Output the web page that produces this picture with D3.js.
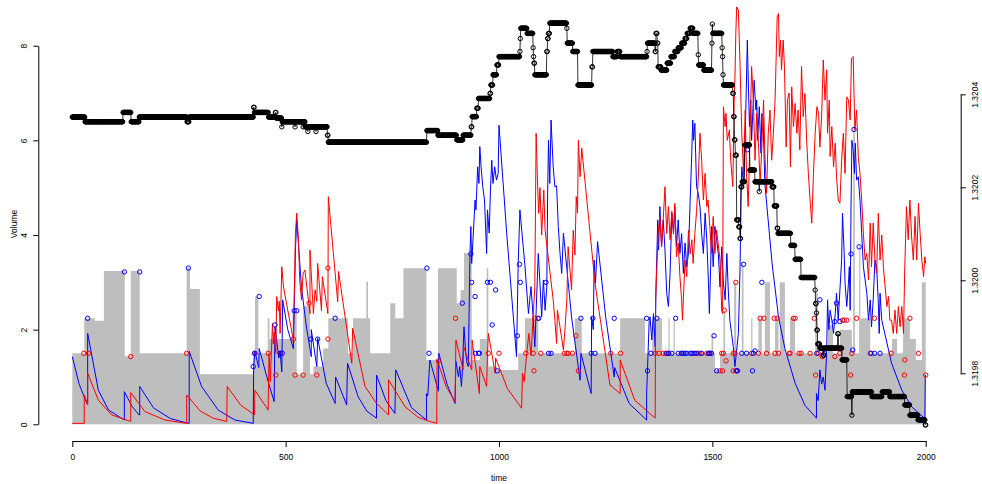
<!DOCTYPE html>
<html lang="en">
<head>
<meta charset="UTF-8">
<title>Volume and price over time</title>
<script src="https://d3js.org/d3.v7.min.js"></script>
<style>
  body { margin: 0; background: #fff; }
  svg { display: block; font-family: 'Liberation Sans', Arial, sans-serif; }
  .axis text { font-size: 8.5px; fill: #000; }
  .axis path, .axis line { stroke: #000; }
</style>
</head>
<body>
<svg id="chart" width="982" height="484"></svg>
<script>
// gray volume steps (step starts and heights)
const volT = [0,28,53,74,123,137,158,268,276,299,424,428,436,458,462,516,526,541,557,565,588,600,646,658,689,693,698,745,757,776,830,857,901,910,918,936,955,971,975,996,1045,1061,1092,1178,1194,1284,1342,1359,1382,1397,1400,1409,1412,1498,1502,1506,1518,1526,1530,1551,1556,1569,1573,1591,1594,1608,1616,1623,1635,1647,1655,1658,1670,1682,1694,1741,1747,1771,1783,1799,1827,1830,1834,1844,1847,1870,1921,1933,1947,1963,1977,1991,2000];
const volV = [1.5,2.24,2.19,3.24,1.44,3.24,1.5,3.3,2.86,1.06,1.53,2.7,1.5,2.24,1.8,2.41,1.06,2.5,1.06,1.22,1.6,2.24,1.5,2.24,3.01,2.24,1.5,2.56,2.24,3.3,1.36,3.3,2.56,2.84,3.62,1.36,1.8,3.3,1.22,1.15,1.5,2.24,1.5,2.24,1.5,2.24,1.5,2.24,1.5,2.24,1.5,2.24,1.5,1.87,1.5,1.15,1.5,2.41,1.5,3.0,1.5,3.38,1.5,2.24,1.5,2.24,1.5,3.0,1.5,2.24,1.5,3.0,1.5,2.24,1.5,2.77,1.5,2.1,1.5,2.0,1.5,6.23,1.5,3.75,2.24,1.5,1.8,1.5,2.24,1.8,1.36,3.0,3.0];

// red line
const redT = [0,28,28,36,36,61,92,137,137,170,217,268,268,300,330,362,363,395,427,428,459,461,464,469,471,473,477,479,483,485,487,491,495,498,518,520,523,526,530,533,537,541,545,557,557,565,569,573,575,584,586,599,600,622,624,655,657,686,713,741,741,780,810,838,854,855,876,897,899,916,917,936,937,954,955,971,973,975,991,992,1020,1053,1055,1059,1065,1070,1075,1080,1084,1087,1090,1093,1096,1100,1105,1108,1127,1131,1135,1137,1151,1155,1159,1162,1170,1174,1178,1181,1184,1186,1190,1194,1225,1260,1284,1284,1318,1366,1367,1373,1377,1381,1385,1389,1393,1397,1401,1405,1409,1412,1416,1420,1424,1428,1430,1433,1436,1440,1444,1448,1452,1455,1459,1463,1467,1471,1475,1479,1483,1487,1490,1494,1498,1502,1506,1510,1518,1522,1524,1526,1530,1532,1535,1540,1543,1548,1551,1553,1555,1557,1561,1565,1569,1573,1577,1580,1584,1588,1592,1596,1600,1604,1608,1612,1616,1620,1623,1627,1631,1635,1639,1643,1647,1649,1652,1655,1657,1660,1662,1666,1669,1673,1676,1680,1683,1686,1690,1694,1698,1701,1705,1709,1713,1717,1721,1725,1729,1733,1737,1741,1745,1749,1752,1756,1760,1764,1768,1770,1774,1776,1780,1784,1788,1791,1795,1799,1803,1807,1811,1815,1819,1823,1826,1830,1834,1838,1842,1846,1850,1854,1858,1862,1866,1870,1873,1877,1881,1885,1889,1893,1897,1901,1905,1909,1913,1916,1920,1924,1928,1932,1936,1940,1944,1948,1951,1955,1959,1963,1967,1971,1975,1979,1983,1987,1991,1995,1998,2000];
const redV = [0.02,0.02,0.62,0.41,1.08,0.51,0.2,0.06,0.67,0.27,0.09,0.02,0.62,0.28,0.13,0.06,0.8,0.4,0.2,0.72,0.3,1.5,0.9,2.13,1.7,1.95,1.5,2.7,2.4,2.6,1.92,3.33,2.9,2.75,1.78,2.7,4.04,4.46,3.9,3.05,2.63,3.19,3.26,2.34,3.68,2.34,2.84,2.6,3.4,2.4,3.12,2.34,4.81,2.59,3.23,1.29,2.03,0.8,0.44,0.2,0.94,0.37,0.15,0.06,0.02,1.36,0.8,0.48,1.78,1.15,1.64,1.15,1.78,0.65,1.22,0.8,1.5,1.92,1.08,1.4,0.75,0.34,1.08,0.9,1.5,1.92,1.45,2.27,2.91,6.15,5.2,4.46,5.0,4.0,4.95,4.1,2.63,2.2,1.71,2.41,1.57,2.06,2.63,3.75,2.84,4.1,3.58,4.81,4.46,6.0,5.23,5.83,2.98,0.83,0.65,1.36,0.51,0.13,2.63,4.03,4.39,3.75,4.35,5.02,4.03,4.6,3.9,4.5,4.03,4.67,3.54,3.83,3.12,2.63,2.2,2.84,3.47,3.12,4.1,3.6,3.9,3.4,4.03,4.5,5.2,6.15,5.58,4.74,5.3,4.6,4.74,4.18,3.61,4.39,3.61,4.1,3.47,2.41,2.34,6.71,6.29,6.57,6.0,6.22,5.58,5.02,6.78,7.34,8.26,8.82,8.75,7.56,6.15,5.3,6.64,5.3,4.6,6.0,7.56,6.85,5.58,6.57,5.94,5.09,5.87,6.85,5.73,4.88,6.15,6.64,5.58,6.15,6.85,7.56,8.61,8.68,7.77,8.12,7.49,8.12,7.56,5.86,6.85,7.0,5.44,7.13,6.29,6.78,6.15,6.64,5.8,7.56,6.5,6.99,6.0,5.3,4.74,4.25,5.3,6.15,6.71,6.57,5.86,6.5,7.7,6.85,7.49,6.15,6.85,5.66,6.29,5.44,5.94,5.23,4.74,4.67,5.58,6.15,5.3,6.92,6.85,6.43,7.73,7.77,6.22,6.64,5.66,5.3,4.74,4.03,3.47,3.61,3.05,4.25,3.33,4.25,3.47,3.19,4.46,3.47,4.0,3.3,2.9,2.49,2.7,2.2,2.2,1.92,2.41,1.92,2.49,2.06,2.49,1.92,3.33,4.6,3.9,4.74,3.96,3.47,4.39,3.47,4.67,4.03,3.47,3.12,3.54,3.4];

// blue line
const blueT = [0,16,34,36,36,61,85,122,122,140,156,158,158,190,230,272,274,274,303,342,381,424,425,428,437,438,459,473,475,484,487,491,493,505,518,520,523,526,537,548,560,560,573,575,595,616,617,643,645,670,690,713,713,735,756,758,795,830,830,833,838,858,859,878,897,899,905,908,912,914,918,922,925,928,932,934,936,944,946,950,953,955,958,962,966,971,973,977,980,983,986,990,994,998,1000,1018,1041,1045,1049,1061,1069,1075,1080,1084,1092,1096,1100,1104,1108,1112,1114,1116,1119,1122,1127,1131,1135,1139,1143,1147,1151,1170,1190,1192,1216,1217,1221,1223,1226,1231,1250,1270,1271,1305,1346,1346,1348,1352,1354,1358,1362,1366,1368,1372,1374,1377,1381,1385,1389,1393,1397,1401,1405,1409,1412,1416,1420,1424,1428,1432,1436,1440,1444,1448,1451,1454,1456,1459,1463,1467,1471,1475,1479,1483,1487,1491,1493,1496,1498,1502,1506,1510,1514,1518,1522,1526,1530,1534,1537,1541,1545,1549,1553,1557,1561,1565,1567,1569,1573,1576,1579,1582,1584,1587,1590,1592,1596,1598,1602,1604,1606,1610,1614,1616,1619,1623,1640,1655,1670,1694,1717,1744,1744,1748,1752,1756,1760,1764,1768,1770,1773,1776,1780,1784,1788,1791,1795,1799,1803,1805,1809,1811,1815,1819,1821,1823,1825,1827,1830,1833,1835,1838,1842,1846,1850,1854,1862,1866,1870,1873,1877,1881,1885,1889,1891,1893,1897,1920,1944,1967,1998,1999,2000];
const blueV = [1.43,0.85,0.44,0.44,1.92,0.72,0.3,0.09,0.69,0.38,0.2,0.2,0.8,0.35,0.12,0.02,0.02,1.54,0.8,0.3,0.09,0.02,1.22,1.53,1.2,1.6,0.9,0.48,2.06,1.4,1.55,1.11,2.63,2.0,1.6,2.41,3.68,4.32,2.91,2.1,1.43,2.0,1.22,1.82,0.87,0.44,1.0,0.41,1.29,0.58,0.28,0.13,1.04,0.5,0.23,1.15,0.35,0.09,0.65,0.6,1.36,0.7,1.5,0.85,0.44,1.33,1.0,1.22,0.8,1.1,2.06,1.5,1.3,1.22,3.61,4.18,3.4,4.74,4.53,5.44,5.09,5.87,5.44,5.02,4.74,3.61,4.53,4.04,4.95,5.58,5.09,5.44,5.16,5.3,6.32,4.04,1.43,3.4,4.53,3.33,2.34,2.91,2.27,1.64,3.61,2.98,2.27,3.05,2.41,2.9,4.88,6.0,5.09,6.43,5.44,5.02,5.04,4.18,3.61,3.19,4.04,2.27,0.93,1.5,0.65,2.27,2.0,3.47,2.98,3.86,2.27,1.0,1.2,0.44,0.09,0.65,1.15,2.2,2.27,1.78,2.34,1.64,2.91,4.32,3.68,4.6,3.75,4.32,3.68,2.77,2.49,3.19,4.46,4.03,4.6,3.75,4.32,3.61,4.03,3.19,3.83,3.33,3.61,4.74,5.51,6.43,6.0,6.36,5.02,4.88,4.6,4.03,3.61,4.46,3.9,2.98,2.34,3.33,4.18,3.33,4.18,3.9,3.61,2.9,3.75,2.98,2.63,3.61,2.9,2.2,1.92,1.64,1.22,1.57,1.92,3.33,4.74,5.44,5.09,5.8,6.85,8.12,7.34,6.29,6.85,6.0,6.85,7.27,6.64,6.85,6.0,6.71,5.73,6.57,6.43,5.09,3.4,2.27,1.6,0.87,0.4,0.13,0.65,0.5,1.15,0.85,1.0,0.72,1.57,2.63,2.0,2.41,2.2,1.92,2.34,2.77,2.2,2.84,3.47,4.46,3.61,2.98,2.49,2.98,3.33,2.41,4.6,6.0,5.8,5.3,5.94,5.16,5.23,4.74,4.03,3.33,2.77,2.2,2.63,2.06,2.63,3.47,3.33,2.56,1.92,2.77,2.2,1.29,0.72,0.37,0.12,1.04,1.04];

// red and blue circles
const redPtT = [27,38,137,268,427,459,477,488,518,522,541,555,573,599,599,858,898,975,1000,1063,1080,1082,1084,1091,1098,1153,1159,1162,1172,1180,1186,1262,1285,1366,1375,1385,1391,1397,1427,1455,1467,1471,1487,1494,1518,1522,1524,1526,1528,1532,1549,1549,1553,1555,1555,1592,1608,1612,1621,1627,1645,1647,1652,1655,1680,1682,1690,1694,1703,1708,1729,1739,1742,1748,1758,1787,1799,1805,1809,1815,1824,1827,1838,1870,1880,1919,1950,1951,1963,1983,2000];
const redPtV = [1.5,1.5,1.43,1.5,1.5,1.5,1.04,1.5,1.8,1.04,1.04,2.56,1.04,3.3,1.8,1.34,2.24,1.5,1.5,1.5,1.5,1.13,2.24,2.24,1.5,1.5,1.5,1.5,1.5,1.87,1.13,1.5,1.5,1.5,1.5,1.5,1.5,1.5,1.5,1.5,1.5,1.5,1.5,1.5,1.13,1.5,1.13,1.5,2.41,1.34,1.5,1.13,1.5,1.13,3.0,1.5,1.5,2.24,2.24,1.5,2.24,1.5,2.24,1.5,1.5,1.5,2.24,2.24,1.5,1.5,1.5,2.24,1.04,1.5,1.43,1.43,1.5,2.2,2.2,2.2,1.04,1.5,2.24,1.5,2.24,1.5,1.04,1.36,2.24,1.5,1.04];
const bluePtT = [36,122,158,272,424,428,438,475,487,492,520,526,559,575,616,831,836,914,934,936,944,945,952,954,973,980,984,992,996,1043,1048,1050,1093,1110,1116,1122,1192,1216,1220,1225,1270,1346,1348,1356,1370,1393,1398,1405,1414,1420,1428,1432,1436,1440,1448,1452,1459,1463,1475,1491,1494,1498,1504,1510,1557,1559,1569,1573,1580,1582,1594,1596,1600,1616,1745,1752,1762,1787,1791,1799,1825,1829,1832,1844,1872,1880,1893];
const bluePtV = [2.24,3.22,3.22,3.3,1.22,1.5,2.7,2.1,1.5,1.5,2.4,2.4,1.8,1.8,2.24,3.3,1.5,2.56,3.6,3.0,2.7,1.5,1.5,1.5,3.0,3.0,2.1,2.84,1.13,1.87,3.38,3.0,2.24,3.0,1.5,1.5,2.24,1.5,2.24,1.5,2.24,2.24,1.13,1.5,2.24,1.5,1.5,1.5,2.24,1.5,1.5,1.5,1.5,1.5,1.5,1.5,1.5,1.5,1.5,1.5,1.5,1.5,1.87,1.13,1.13,1.13,1.5,3.38,1.5,5.8,1.13,1.5,1.55,3.0,1.5,2.63,1.5,2.17,2.56,2.17,3.6,1.57,6.23,3.75,1.5,1.5,1.5];

// price (right axis): level changes
const priceT = [0,30,119,138,157,269,274,425,427,460,476,478,491,492,522,523,541,542,546,552,553,571,572,598,600,831,857,901,916,935,937,948,952,979,981,986,995,1000,1049,1050,1051,1066,1080,1081,1082,1084,1112,1114,1116,1119,1159,1160,1173,1185,1218,1220,1267,1277,1284,1347,1348,1366,1368,1371,1373,1380,1394,1403,1412,1420,1428,1436,1441,1448,1455,1467,1468,1480,1499,1500,1501,1523,1524,1525,1526,1548,1550,1552,1554,1557,1562,1565,1567,1570,1576,1588,1600,1610,1611,1640,1645,1652,1654,1684,1694,1708,1741,1742,1744,1745,1747,1752,1760,1762,1794,1796,1804,1816,1827,1828,1874,1898,1916,1951,1963,1982,1999];
const priceP = [1.320351,1.320341,1.320361,1.320341,1.320351,1.320341,1.320351,1.320372,1.320361,1.320351,1.320361,1.320349,1.32033,1.320341,1.32033,1.320341,1.32033,1.320341,1.32033,1.32032,1.32033,1.32032,1.32033,1.320312,1.320297,1.320322,1.320312,1.320302,1.320312,1.32033,1.320352,1.32037,1.320391,1.320402,1.32042,1.320442,1.320463,1.320481,1.320492,1.32052,1.320542,1.320531,1.3205,1.320481,1.320467,1.320442,1.320492,1.32052,1.320531,1.320553,1.320542,1.32051,1.320492,1.32042,1.320459,1.320492,1.320481,1.320492,1.320481,1.320492,1.32051,1.320492,1.320531,1.32051,1.320459,1.320452,1.320467,1.320481,1.320492,1.3205,1.32051,1.32052,1.320531,1.320542,1.320531,1.320485,1.320463,1.320452,1.32051,1.320551,1.320531,1.3205,1.320481,1.320442,1.32042,1.320402,1.320352,1.320302,1.320269,1.32013,1.320115,1.32009,1.320201,1.320212,1.320291,1.320237,1.320212,1.320191,1.320212,1.320201,1.32016,1.320112,1.320101,1.320075,1.320045,1.320006,1.319979,1.31995,1.31993,1.319893,1.319863,1.319854,1.319839,1.319854,1.319885,1.319854,1.319829,1.31975,1.31971,1.31976,1.31975,1.31976,1.31975,1.319732,1.31971,1.3197,1.319689];

const timeTicks = [0, 500, 1000, 1500, 2000];
const volTicks = [0, 2, 4, 6, 8];
const priceTicks = [1.3198, 1.3200, 1.3202, 1.3204];

const svg = d3.select("#chart");

const x = d3.scaleLinear().domain([0, 2000]).range([72.3, 925.7]);
const y = d3.scaleLinear().domain([0, 8]).range([424.3, 45.7]);
const yP = d3.scaleLinear().domain([1.3198, 1.3204]).range([373.3, 94.3]);

const zip = (ts, vs) => ts.map((t, i) => ({ t, v: vs[i] }));

// gray volume area
svg.append("path")
    .datum(zip(volT, volV))
    .attr("fill", "#bebebe")
    .attr("d", d3.area().curve(d3.curveStepAfter)
        .x(d => x(d.t)).y0(y(0)).y1(d => y(d.v)));

const line = d3.line().x(d => x(d.t)).y(d => y(d.v));

svg.append("path").datum(zip(blueT, blueV))
    .attr("fill", "none").attr("stroke", "#0000ff").attr("stroke-width", 1)
    .attr("d", line);
svg.append("path").datum(zip(redT, redV))
    .attr("fill", "none").attr("stroke", "#ff0000").attr("stroke-width", 1)
    .attr("d", line);

function dots(data, color) {
    svg.append("g").selectAll("circle").data(data).join("circle")
        .attr("cx", d => x(d.t)).attr("cy", d => y(d.v)).attr("r", 2.2)
        .attr("fill", "none").attr("stroke", color).attr("stroke-width", 1);
}
dots(zip(redPtT, redPtV), "#ff0000");
dots(zip(bluePtT, bluePtV), "#0000ff");

// price: one point per time step, held at the last level
const priceAt = t => priceP[d3.bisectRight(priceT, t) - 1];
const priceData = d3.range(0, 2001).map(t => ({ t, p: priceAt(t) }));

svg.append("path").datum(priceData)
    .attr("fill", "none").attr("stroke", "#000").attr("stroke-width", 0.8)
    .attr("d", d3.line().x(d => x(d.t)).y(d => yP(d.p)));
svg.append("g").selectAll("circle").data(priceData).join("circle")
    .attr("cx", d => x(d.t)).attr("cy", d => yP(d.p)).attr("r", 2.2)
    .attr("fill", "none").attr("stroke", "#000").attr("stroke-width", 1);

// axes
const xAxis = svg.append("g").attr("class", "axis")
    .attr("transform", "translate(0,441)")
    .call(d3.axisBottom(x).tickValues(timeTicks).tickFormat(d3.format("d"))
        .tickSize(6).tickSizeOuter(0));
xAxis.selectAll("text").attr("y", 18.8).attr("dy", 0);

const yAxis = svg.append("g").attr("class", "axis")
    .attr("transform", "translate(38.3,0)")
    .call(d3.axisLeft(y).tickValues(volTicks).tickFormat(d3.format("d"))
        .tickSize(5).tickSizeOuter(0));
yAxis.selectAll("text")
    .attr("x", 0).attr("dy", 0)
    .attr("text-anchor", "middle")
    .attr("transform", "translate(-11.4,0) rotate(-90)");

const pAxis = svg.append("g").attr("class", "axis")
    .attr("transform", "translate(960.7,0)")
    .call(d3.axisRight(yP).tickValues(priceTicks).tickFormat(d3.format(".4f"))
        .tickSize(5).tickSizeOuter(0));
pAxis.selectAll("text")
    .attr("x", 0).attr("dy", 0)
    .attr("text-anchor", "middle")
    .attr("transform", "translate(17.4,0) rotate(-90)");

svg.append("text")
    .attr("x", x(1000)).attr("y", 481)
    .attr("text-anchor", "middle").attr("font-size", 8.5)
    .text("time");

svg.append("text")
    .attr("transform", "translate(17.2,224) rotate(-90)")
    .attr("text-anchor", "middle").attr("font-size", 8.5)
    .text("Volume");
</script>
</body>
</html>
